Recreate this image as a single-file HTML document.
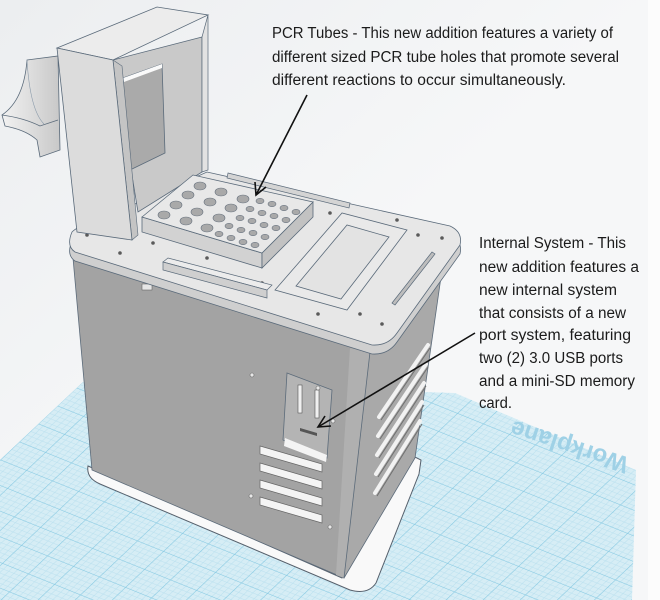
<!DOCTYPE html>
<html><head><meta charset="utf-8"><style>
html,body{margin:0;padding:0;background:#f4f6f7;}
svg{display:block}
text{font-family:"Liberation Sans",sans-serif;fill:#1b1b1b;font-size:15.5px}
</style></head><body>
<svg width="660" height="600" viewBox="0 0 660 600" xmlns="http://www.w3.org/2000/svg">
<defs>
<pattern id="g" width="10" height="10" patternUnits="userSpaceOnUse" patternTransform="matrix(2.6,1.05,1.9,-1.8,0,460)">
<rect width="10" height="10" fill="#d6edf5"/>
<path d="M2 0V10M4 0V10M6 0V10M8 0V10M0 2H10M0 4H10M0 6H10M0 8H10" stroke="#b8dfee" stroke-width="0.18"/>
<path d="M0 0V10M0 0H10" stroke="#86c9e2" stroke-width="0.45"/>
</pattern>
<linearGradient id="bg" x1="0" y1="0" x2="1" y2="1"><stop offset="0" stop-color="#eceef0"/><stop offset="0.5" stop-color="#f6f7f8"/></linearGradient>
<linearGradient id="hg" x1="0" y1="0" x2="1" y2="0"><stop offset="0" stop-color="#f2f2f2"/><stop offset="1" stop-color="#c8c8c8"/></linearGradient>
</defs>
<rect width="660" height="600" fill="url(#bg)"/>
<rect x="648" y="0" width="12" height="600" fill="#fcfcfc"/>
<polygon points="0,460 83,382 455,393 636,470 632,600 0,600" fill="url(#g)"/>
<text x="0" y="0" transform="translate(630,458) rotate(198)" style="font-size:24px;fill:#9fd1e6;font-weight:bold">Workplane</text>
<path d="M88,466 L342,578 L413,456 L421,460 L419,474 L376,583 Q368,595 350,590 L100,484 Q86,478 88,466 Z" fill="#f9f9f9" stroke="#56606c" stroke-width="1"/>
<polygon points="73,258 370,352 344,578 92,470" fill="#a3a3a3" stroke="#5c6b7a" stroke-width="0.8"/>
<polygon points="350,348 370,352 344,578 336,575" fill="#b0b0b0"/>
<polygon points="370,352 442,270 415,458 344,578" fill="#a9a9a9" stroke="#5c6b7a" stroke-width="0.8"/>
<g stroke="#f2f2f2" stroke-width="4" stroke-linecap="round">
<line x1="379" y1="417" x2="428" y2="345"/><line x1="378" y1="436" x2="426" y2="364"/><line x1="377" y1="455" x2="424" y2="383"/><line x1="376" y1="474" x2="422" y2="402"/><line x1="375" y1="493" x2="420" y2="421"/>
</g>
<g stroke="#6e6e6e" stroke-width="1">
<line x1="381" y1="420" x2="430" y2="348"/><line x1="380" y1="439" x2="428" y2="367"/><line x1="379" y1="458" x2="426" y2="386"/><line x1="378" y1="477" x2="424" y2="405"/><line x1="377" y1="496" x2="422" y2="424"/>
</g>
<polygon points="287,373 332,390 327,458 283,440" fill="#b4b4b4" stroke="#5c6b7a" stroke-width="0.8"/>
<polygon points="285,438 327,455 326,462 284,446" fill="#f4f4f4"/>
<rect x="298" y="385" width="4" height="28" fill="#f0f0f0" stroke="#555" stroke-width="0.6"/>
<rect x="315" y="390" width="4" height="28" fill="#f0f0f0" stroke="#555" stroke-width="0.6"/>
<polygon points="300,428 317,433 317,436 300,431" fill="#555"/>
<g>
<polygon points="260,446 322,464 322,472 260,454" fill="#f4f4f4" stroke="#666" stroke-width="0.7"/>
<polygon points="260,463 322,481 322,489 260,471" fill="#f4f4f4" stroke="#666" stroke-width="0.7"/>
<polygon points="260,480 322,498 322,506 260,488" fill="#f4f4f4" stroke="#666" stroke-width="0.7"/>
<polygon points="260,497 322,515 322,523 260,505" fill="#f4f4f4" stroke="#666" stroke-width="0.7"/>
</g>
<g fill="#e8e8e8" stroke="#666" stroke-width="0.6"><circle cx="252" cy="375" r="2"/><circle cx="318" cy="388" r="2"/><circle cx="333" cy="421" r="2"/><circle cx="251" cy="496" r="2"/><circle cx="330" cy="527" r="2"/></g>
<rect x="142" y="284" width="10" height="6" fill="#e6e6e6" stroke="#666" stroke-width="0.6"/>
<path d="M72,241 Q78,235 90,233 L207,181 L450,235 Q463,241 460,254 L397,342 Q388,355 372,354 L75,261 Q66,255 72,241 Z" fill="#cfcfcf" stroke="#5a6a7a" stroke-width="0.8"/>
<path d="M72,232 Q78,226 90,224 L207,172 L450,226 Q463,232 460,245 L397,333 Q388,346 372,345 L75,252 Q66,246 72,232 Z" fill="#e7e7e7" stroke="#5a6a7a" stroke-width="0.8"/>
<g fill="#5a5a5a"><circle cx="87" cy="235" r="1.8"/><circle cx="120" cy="253" r="1.8"/><circle cx="153" cy="243" r="1.8"/><circle cx="207" cy="258" r="1.8"/><circle cx="262" cy="283" r="1.8"/><circle cx="330" cy="213" r="1.8"/><circle cx="397" cy="220" r="1.8"/><circle cx="418" cy="235" r="1.8"/><circle cx="442" cy="238" r="1.8"/><circle cx="318" cy="314" r="1.8"/><circle cx="360" cy="314" r="1.8"/><circle cx="382" cy="324" r="1.8"/></g>
<polygon points="228,173 350,203 349,208 227,178" fill="#d4d4d4" stroke="#5a6a7a" stroke-width="0.7"/>
<polygon points="275,290 342,213 407,230 347,310" fill="#e9e9e9" stroke="#5a6a7a" stroke-width="0.8"/>
<polygon points="296,286 347,225 389,237 341,299" fill="#e3e3e3" stroke="#5a6a7a" stroke-width="0.8"/>
<polygon points="392,303 432,252 435,254 395,305" fill="#bdbdbd" stroke="#5a6a7a" stroke-width="0.7"/>
<polygon points="163,262 168,258 272,285 267,290" fill="#ececec" stroke="#5a6a7a" stroke-width="0.7"/>
<polygon points="163,262 267,290 267,298 163,270" fill="#cfcfcf" stroke="#5a6a7a" stroke-width="0.7"/>
<!-- handle -->
<path d="M27,60 L58,56 L60,150 L40,157 L37,140 Q26,130 5,126 L2,115 Q24,100 27,60 Z" fill="url(#hg)" stroke="#5a6a7a" stroke-width="0.8"/>
<path d="M2,115 Q24,118 40,126 L58,120" fill="none" stroke="#5a6a7a" stroke-width="0.7"/>
<path d="M27,60 Q30,110 44,124" fill="none" stroke="#8a9aaa" stroke-width="0.6"/>
<!-- tower -->
<polygon points="113,60 202,37 202,172 138,212" fill="#c9c9c9" stroke="#5a6a7a" stroke-width="0.8"/>
<polygon points="202,37 208,15 208,170 202,172" fill="#e2e2e2" stroke="#5a6a7a" stroke-width="0.7"/>
<polygon points="123,78 162,64 165,153 130,170" fill="#aaaaaa" stroke="#5a6a7a" stroke-width="0.8"/>
<polygon points="123,78 162,64 162,68 124,82" fill="#fafafa"/>
<polygon points="57,48 157,7 208,15 113,60" fill="#ececec" stroke="#5a6a7a" stroke-width="0.8"/>
<polygon points="113,60 122,66 138,235 132,240" fill="#c4c4c4" stroke="#5a6a7a" stroke-width="0.6"/>
<polygon points="57,48 113,60 132,240 77,232" fill="#dcdcdc" stroke="#5a6a7a" stroke-width="0.8"/>
<polygon points="142,217 262,253 262,268 142,232" fill="#d2d2d2" stroke="#5a6a7a" stroke-width="0.8"/>
<polygon points="262,253 313,202 313,217 262,268" fill="#c2c2c2" stroke="#5a6a7a" stroke-width="0.8"/>
<polygon points="142,217 193,175 313,202 262,253" fill="#e8e8e8" stroke="#5a6a7a" stroke-width="0.8"/>
<g fill="#a9a9a9" stroke="#6a7480" stroke-width="0.6">
<ellipse cx="164" cy="215" rx="6" ry="4"/><ellipse cx="176" cy="205" rx="6" ry="4"/><ellipse cx="188" cy="195" rx="6" ry="4"/><ellipse cx="200" cy="186" rx="6" ry="4"/>
<ellipse cx="186" cy="221" rx="6" ry="4"/><ellipse cx="197" cy="212" rx="6" ry="4"/><ellipse cx="210" cy="202" rx="6" ry="4"/><ellipse cx="221" cy="192" rx="6" ry="4"/>
<ellipse cx="207" cy="228" rx="6" ry="4"/><ellipse cx="219" cy="218" rx="6" ry="4"/><ellipse cx="231" cy="208" rx="6" ry="4"/><ellipse cx="243" cy="199" rx="6" ry="4"/>
<ellipse cx="219" cy="234" rx="4" ry="2.7"/><ellipse cx="229" cy="226" rx="4" ry="2.7"/><ellipse cx="240" cy="218" rx="4" ry="2.7"/><ellipse cx="250" cy="209" rx="4" ry="2.7"/><ellipse cx="260" cy="201" rx="4" ry="2.7"/>
<ellipse cx="231" cy="238" rx="4" ry="2.7"/><ellipse cx="241" cy="230" rx="4" ry="2.7"/><ellipse cx="252" cy="221" rx="4" ry="2.7"/><ellipse cx="262" cy="213" rx="4" ry="2.7"/><ellipse cx="272" cy="204" rx="4" ry="2.7"/>
<ellipse cx="243" cy="242" rx="4" ry="2.7"/><ellipse cx="253" cy="233" rx="4" ry="2.7"/><ellipse cx="264" cy="225" rx="4" ry="2.7"/><ellipse cx="274" cy="216" rx="4" ry="2.7"/><ellipse cx="284" cy="208" rx="4" ry="2.7"/>
<ellipse cx="255" cy="245" rx="4" ry="2.7"/><ellipse cx="265" cy="237" rx="4" ry="2.7"/><ellipse cx="276" cy="228" rx="4" ry="2.7"/><ellipse cx="286" cy="220" rx="4" ry="2.7"/><ellipse cx="296" cy="212" rx="4" ry="2.7"/>
</g>
<g stroke="#111" stroke-width="1.6" fill="none">
<line x1="307" y1="95" x2="256" y2="195"/>
<polyline points="255,182 256,195 266,187"/>
<line x1="475" y1="333" x2="318" y2="427"/>
<polyline points="325,416 318,427 331,426"/>
</g>
<text x="272" y="38" textLength="341" lengthAdjust="spacingAndGlyphs">PCR Tubes - This new addition features a variety of</text>
<text x="272" y="62" textLength="347" lengthAdjust="spacingAndGlyphs">different sized PCR tube holes that promote several</text>
<text x="272" y="85" textLength="294" lengthAdjust="spacingAndGlyphs">different reactions to occur simultaneously.</text>
<text x="479" y="248" textLength="147" lengthAdjust="spacingAndGlyphs">Internal System - This</text>
<text x="479" y="272" textLength="160" lengthAdjust="spacingAndGlyphs">new addition features a</text>
<text x="479" y="295" textLength="138" lengthAdjust="spacingAndGlyphs">new internal system</text>
<text x="479" y="318" textLength="147" lengthAdjust="spacingAndGlyphs">that consists of a new</text>
<text x="479" y="340" textLength="152" lengthAdjust="spacingAndGlyphs">port system, featuring</text>
<text x="479" y="363" textLength="144" lengthAdjust="spacingAndGlyphs">two (2) 3.0 USB ports</text>
<text x="479" y="386" textLength="156" lengthAdjust="spacingAndGlyphs">and a mini-SD memory</text>
<text x="479" y="408" textLength="33" lengthAdjust="spacingAndGlyphs">card.</text>
</svg>
</body></html>
